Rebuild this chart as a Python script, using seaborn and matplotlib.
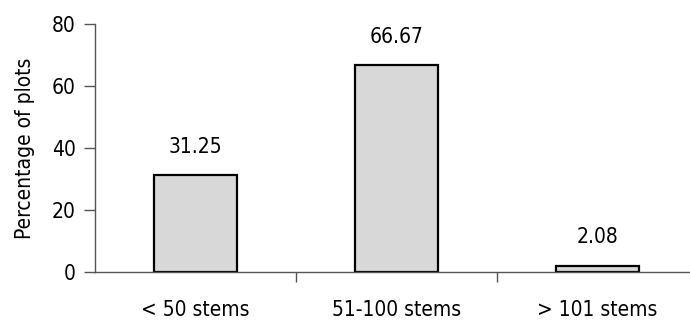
import matplotlib
matplotlib.use("Agg")
import matplotlib.pyplot as plt
import seaborn as sns
import pandas as pd

categories = ["< 50 stems", "51-100 stems", "> 101 stems"]
values = [31.25, 66.67, 2.08]
value_labels = ["31.25", "66.67", "2.08"]
y_ticks = [0, 20, 40, 60, 80]

sns.set_style("white")
plt.rcParams["font.family"] = ["DejaVu Sans"]
plt.rcParams["font.stretch"] = "condensed"
plt.rcParams["text.color"] = "black"
plt.rcParams["xtick.color"] = "black"
plt.rcParams["ytick.color"] = "black"
plt.rcParams["axes.labelcolor"] = "black"

FS = 15

df = pd.DataFrame({"cat": categories, "val": values})

fig = plt.figure(figsize=(6.9, 3.2), dpi=100)
ax = fig.add_axes([95 / 690, 48 / 320, 1 - 95 / 690, (272 - 24) / 320])

sns.barplot(data=df, x="cat", y="val", color="#d8d8d8", edgecolor="black",
            linewidth=1.6, width=0.41, saturation=1, ax=ax)

for i, (v, lab) in enumerate(zip(values, value_labels)):
    ax.annotate(lab, (i, v), xytext=(0, 13), textcoords="offset points",
                ha="center", va="bottom", fontsize=FS, fontstretch="condensed")

ax.set_xlim(-0.5, 2.46)
ax.set_ylim(0, 80)
ax.set_yticks(y_ticks)
ax.set_yticklabels([str(t) for t in y_ticks], fontsize=FS, fontstretch="condensed")
ax.set_xticks(range(len(categories)))
ax.set_xticklabels(categories, fontsize=FS, fontstretch="condensed")
ax.tick_params(axis="x", which="major", length=0, pad=20, bottom=False)
ax.set_xticks([0.5, 1.5], minor=True)
ax.tick_params(axis="x", which="minor", length=7, color="#555555", direction="out",
               width=1, bottom=True)
ax.tick_params(axis="y", which="major", length=8, color="#555555", direction="out",
               width=1, pad=6, left=True)
ax.set_xlabel("")
ax.set_ylabel("Percentage of plots", fontsize=FS, fontstretch="condensed", labelpad=12)

for s in ["top", "right"]:
    ax.spines[s].set_visible(False)
for s in ["left", "bottom"]:
    ax.spines[s].set_color("#555555")
    ax.spines[s].set_linewidth(1)

fig.savefig("out.png", dpi=100)
